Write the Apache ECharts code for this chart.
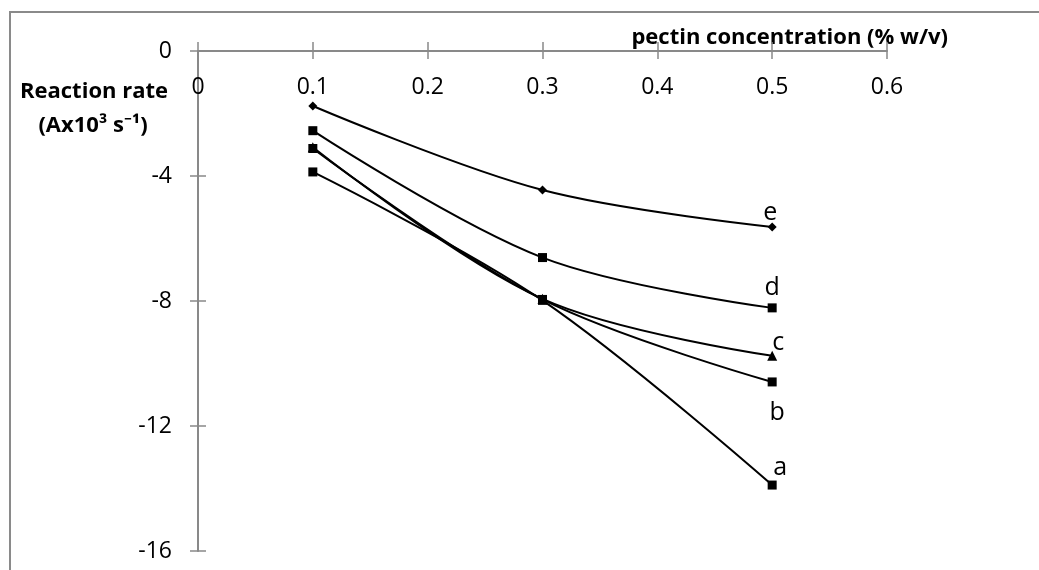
<!DOCTYPE html>
<html>
<head>
<meta charset="utf-8">
<script src="https://cdn.jsdelivr.net/npm/echarts@6/dist/echarts.min.js"></script>
<style>
html,body{margin:0;padding:0;background:#fff;}
#chart{width:1039px;height:570px;}
</style>
</head>
<body>
<div id="chart"></div>
<script>
// Data
const xValues = [0.1, 0.3, 0.5];
const seriesNames = ['a', 'b', 'c', 'd', 'e'];
const seriesA = [-3.87, -7.98, -13.89];
const seriesB = [-3.12, -7.95, -10.59];
const seriesC = [-3.08, -7.93, -9.75];
const seriesD = [-2.55, -6.61, -8.22];
const seriesE = [-1.76, -4.45, -5.63];
const xTicks = [0, 0.1, 0.2, 0.3, 0.4, 0.5, 0.6];
const yTicks = [0, -4, -8, -12, -16];
const xAxisTitle = 'pectin concentration (% w/v)';
const yAxisTitle1 = 'Reaction rate';
const yAxisTitle2 = '(Ax10\u00B3 s\u207B\u00B9)';

const FONT = '"Open Sans", "Noto Sans", sans-serif';
const AXIS_COLOR = '#898989';

const chart = echarts.init(document.getElementById('chart'));

const symbols = { a: 'rect', b: 'rect', c: 'triangle', d: 'rect', e: 'diamond' };
const symbolSizes = { a: 9, b: 9, c: 10, d: 9, e: 9 };
const labelOffsets = { a: [8, -17], b: [5, 31], c: [6, -13], d: [0, -20], e: [-2, -14] };
const dataMap = { a: seriesA, b: seriesB, c: seriesC, d: seriesD, e: seriesE };

const series = seriesNames.map(function (name) {
  const vals = dataMap[name];
  return {
    name: name,
    type: 'line',
    smooth: 0.35,
    symbol: symbols[name],
    symbolSize: symbolSizes[name],
    showAllSymbol: true,
    lineStyle: { color: '#000', width: 2 },
    itemStyle: { color: '#000' },
    data: vals.map(function (v, i) {
      const item = { value: [xValues[i], v] };
      if (i === vals.length - 1) {
        item.label = {
          show: true,
          position: 'inside',
          offset: labelOffsets[name],
          formatter: name,
          color: '#000',
          fontFamily: FONT,
          fontSize: 25,
          align: 'center',
          verticalAlign: 'middle'
        };
      }
      return item;
    }),
    z: 3
  };
});

const option = {
  animation: false,
  backgroundColor: '#fff',
  grid: { left: 198, top: 51, width: 689, height: 500, containLabel: false },
  xAxis: [
    {
      type: 'value',
      position: 'top',
      min: xTicks[0],
      max: xTicks[xTicks.length - 1],
      interval: 0.1,
      axisLine: { show: true, onZero: false, lineStyle: { color: AXIS_COLOR, width: 2 } },
      axisTick: { show: true, inside: false, length: 9, lineStyle: { color: AXIS_COLOR, width: 1.5 } },
      axisLabel: {
        show: true, inside: true, margin: 25,
        color: '#000', fontFamily: FONT, fontSize: 23,
        showMinLabel: true, showMaxLabel: true,
        formatter: function (v) { return String(Math.round(v * 10) / 10); }
      },
      splitLine: { show: false }
    },
    {
      type: 'value',
      position: 'top',
      min: xTicks[0],
      max: xTicks[xTicks.length - 1],
      interval: 0.1,
      axisLine: { show: false },
      axisTick: { show: true, inside: true, length: 8, lineStyle: { color: AXIS_COLOR, width: 1.5 } },
      axisLabel: { show: false },
      splitLine: { show: false }
    }
  ],
  yAxis: [
    {
      type: 'value',
      position: 'left',
      min: yTicks[yTicks.length - 1],
      max: yTicks[0],
      interval: 4,
      axisLine: { show: true, onZero: false, lineStyle: { color: AXIS_COLOR, width: 2 } },
      axisTick: { show: true, inside: false, length: 8, lineStyle: { color: AXIS_COLOR, width: 1.5 } },
      axisLabel: {
        show: true, margin: 26,
        color: '#000', fontFamily: FONT, fontSize: 23,
        showMinLabel: true, showMaxLabel: true
      },
      splitLine: { show: false }
    },
    {
      type: 'value',
      position: 'left',
      min: yTicks[yTicks.length - 1],
      max: yTicks[0],
      interval: 4,
      axisLine: { show: false },
      axisTick: { show: true, inside: true, length: 8, lineStyle: { color: AXIS_COLOR, width: 1.5 } },
      axisLabel: { show: false },
      splitLine: { show: false }
    }
  ],
  graphic: [
    {
      type: 'polyline',
      shape: { points: [[10, 570], [10, 12], [1039, 12]] },
      style: { stroke: '#8a8a8a', lineWidth: 2, fill: null },
      silent: true
    },
    {
      type: 'text',
      x: 948, y: 38,
      style: {
        text: xAxisTitle, fill: '#000', font: 'bold 22px ' + FONT,
        textAlign: 'right', textVerticalAlign: 'middle'
      }
    },
    {
      type: 'text',
      x: 94, y: 92,
      style: {
        text: yAxisTitle1, fill: '#000', font: 'bold 22px ' + FONT,
        textAlign: 'center', textVerticalAlign: 'middle'
      }
    },
    {
      type: 'text',
      x: 93, y: 126,
      style: {
        text: yAxisTitle2, fill: '#000', font: 'bold 22px ' + FONT,
        textAlign: 'center', textVerticalAlign: 'middle'
      }
    }
  ],
  series: series
};

chart.setOption(option);
</script>
</body>
</html>
